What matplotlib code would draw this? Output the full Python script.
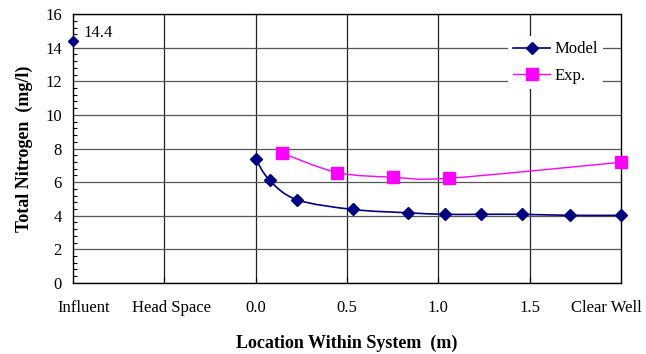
import numpy as np
import matplotlib.pyplot as plt
from matplotlib.path import Path
from matplotlib.patches import PathPatch
from matplotlib.ticker import MultipleLocator

plt.rcParams['font.family'] = ['Liberation Serif', 'DejaVu Serif']

# Influent point (placed at x = -1 on the location axis)
influent_x = -1.0
influent_y = 14.4

# Model profile within the filter bed, last point is the clear well (x = 2)
model_x = [0.0, 0.077, 0.226, 0.533, 0.837, 1.038, 1.233, 1.458, 1.722, 2.0]
model_y = [7.38, 6.1, 4.95, 4.37, 4.17, 4.08, 4.08, 4.08, 4.02, 4.02]

# Experimental measurements
exp_x = [0.146, 0.447, 0.752, 1.058, 2.0]
exp_y = [7.72, 6.57, 6.29, 6.23, 7.18]

grid_x = [-0.5, 0.0, 0.5, 1.0, 1.5]
label_x = [-0.94, -0.46, 0.0, 0.5, 1.0, 1.5, 1.92]
label_text = ['Influent', 'Head Space', '0.0', '0.5', '1.0', '1.5', 'Clear Well']


def smooth_path(xs, ys):
    # Excel-style smoothed line: cubic Bezier segments through every point
    pts = np.column_stack([xs, ys])
    verts = [pts[0]]
    codes = [Path.MOVETO]
    n = len(pts)
    for i in range(n - 1):
        p0 = pts[max(i - 1, 0)]
        p1 = pts[i]
        p2 = pts[i + 1]
        p3 = pts[min(i + 2, n - 1)]
        verts += [p1 + (p2 - p0) / 6, p2 - (p3 - p1) / 6, p2]
        codes += [Path.CURVE4] * 3
    return Path(verts, codes)


fig = plt.figure(figsize=(6.46, 3.54), dpi=100)
ax = fig.add_axes([0.113, 0.201, 0.848, 0.759])

ax.add_patch(PathPatch(smooth_path(model_x, model_y), fc='none', ec='#000080', lw=1.2, zorder=3))
ax.add_patch(PathPatch(smooth_path(exp_x, exp_y), fc='none', ec='#FF00FF', lw=1.0, zorder=3))

ax.plot(model_x, model_y, ls='none', marker='D', ms=6.3, color='#000080', zorder=4, clip_on=False)
ax.plot(exp_x, exp_y, ls='none', marker='s', ms=8.3, color='#FF00FF', zorder=4, clip_on=False)
ax.plot([influent_x], [influent_y], ls='none', marker='D', ms=5.5, color='#000080',
        zorder=5, clip_on=False)
ax.text(influent_x + 0.06, influent_y + 0.45, '14.4', fontsize=12, va='center')

# legend proxies
ax.plot([], [], color='#000080', lw=1.2, marker='D', ms=6.3, label='Model')
ax.plot([], [], color='#FF00FF', lw=1.0, marker='s', ms=8.3, label='Exp.')
h, l = ax.get_legend_handles_labels()
leg = fig.legend(h, l, loc='upper right', bbox_to_anchor=(0.933, 0.897), frameon=True,
                 fontsize=12, handlelength=2.2, handletextpad=0.25, labelspacing=0.65,
                 borderpad=0.3, borderaxespad=0)
leg.get_frame().set_edgecolor('none')
leg.get_frame().set_facecolor('white')
leg.get_frame().set_alpha(1)

ax.set_xlim(-1.0, 2.0)
ax.set_ylim(0, 16)

ax.set_yticks(np.arange(0, 17, 2))
ax.yaxis.set_minor_locator(MultipleLocator(0.4))
ax.tick_params(axis='y', which='major', length=0, pad=8, labelsize=12)
ax.tick_params(axis='y', which='minor', direction='in', length=3, width=0.8)

ax.xaxis.remove_overlapping_locs = False
ax.set_xticks(label_x)
ax.set_xticklabels(label_text)
ax.set_xticks(grid_x, minor=True)
ax.tick_params(axis='x', which='major', length=0, pad=12, labelsize=12)
ax.tick_params(axis='x', which='minor', direction='in', length=4, width=0.8)

ax.grid(False)
ax.yaxis.grid(True, which='major', color='#555555', lw=0.9)
ax.xaxis.grid(True, which='minor', color='#222222', lw=0.9)
for s in ax.spines.values():
    s.set_color('black')
    s.set_linewidth(1.0)

ax.set_ylabel('Total Nitrogen  (mg/l)', fontsize=13, fontweight='bold', labelpad=9)
ax.set_xlabel('Location Within System  (m)', fontsize=13, fontweight='bold', labelpad=14)

fig.savefig('out.png', dpi=100)
